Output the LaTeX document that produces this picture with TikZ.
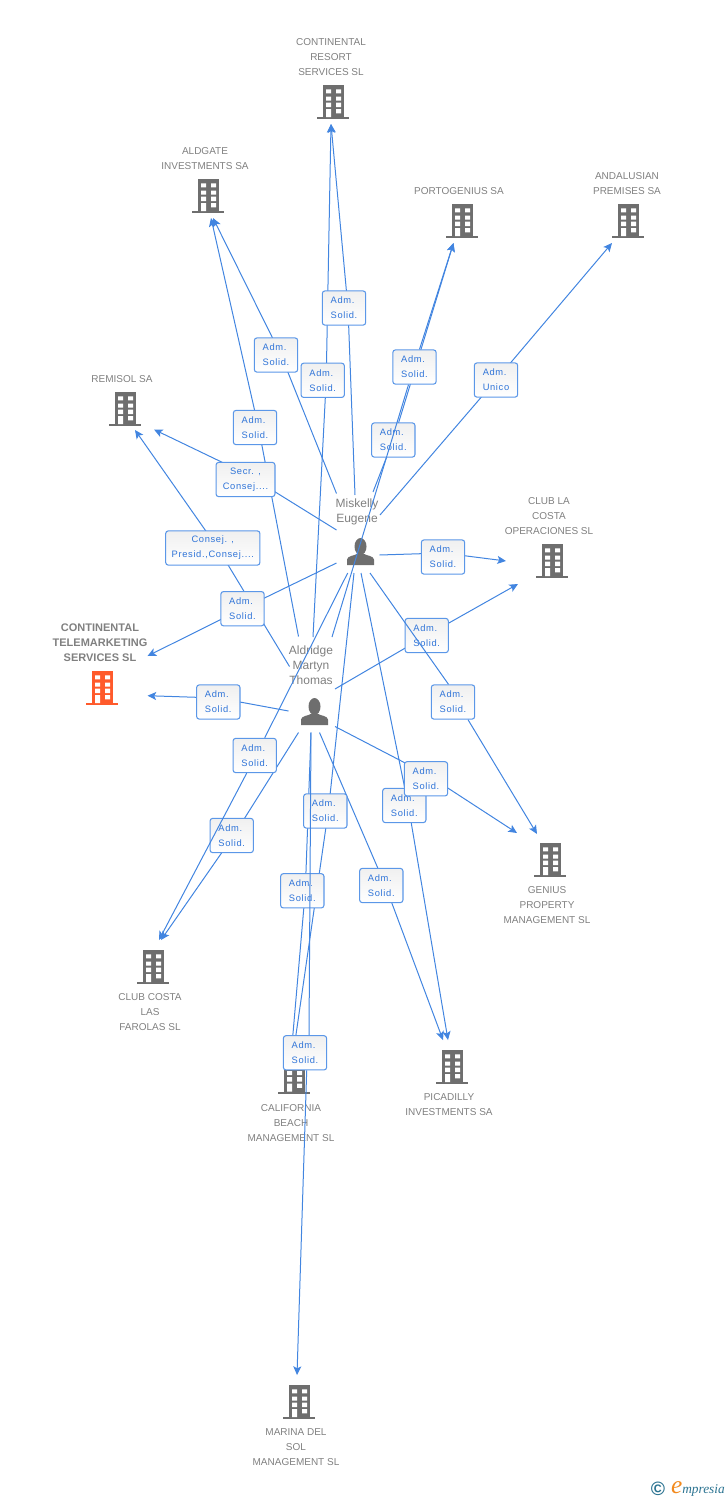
\documentclass[tikz,border=0pt]{standalone}
\usepackage{fontspec}
\setmainfont{Liberation Sans}
\newfontfamily\boxfont[LetterSpace=7]{Liberation Sans}
\newfontfamily\logofont{Liberation Serif}
\usetikzlibrary{arrows.meta,backgrounds}
\definecolor{linkBlue}{HTML}{4285E0}
\definecolor{boxBlue}{HTML}{5B97E8}
\definecolor{boxText}{HTML}{2F74D8}
\definecolor{nameGray}{HTML}{808080}
\definecolor{iconGray}{HTML}{6E6E6E}
\definecolor{iconOrange}{HTML}{FF5A2B}
\definecolor{logoTeal}{HTML}{2B7391}
\definecolor{logoOrange}{HTML}{F28A1E}
\tikzset{
  link/.style={draw=linkBlue,line width=.75pt},
  arr/.style={link,-{Stealth[length=6.5pt,width=6pt,inset=1.5pt]}},
  admbox/.style={rectangle,rounded corners=2pt,draw=boxBlue,line width=.8pt,top color=black!6,bottom color=white,
    minimum width=32.5pt,minimum height=25.7pt,inner sep=0pt,text=boxText,align=left,
    execute at begin node={\vspace*{1.5pt}},
    font=\boxfont\fontsize{7}{11.25}\selectfont},
  widebox/.style={admbox,align=center},
  compname/.style={text=nameGray,align=center,inner sep=0pt,yshift=-.75pt,font=\fontsize{7.5}{11.25}\selectfont},
  bigname/.style={compname,font=\fontsize{9}{11.25}\selectfont},
  boldname/.style={compname,font=\bfseries\fontsize{8.25}{11.25}\selectfont},
  bldg/.style={rectangle,inner sep=0pt,minimum width=24pt,minimum height=25.5pt,
    path picture={
      \fill[#1] (-10.3,-17) rectangle (11.3,15);
      \fill[#1] (-16,15) rectangle (16,17);
      \fill[white] (-7,-12.7) rectangle (-2,-8.7) (3,-12.7) rectangle (8,-8.7);
      \fill[white] (-7,-5.5) rectangle (-2,-1.5) (3,-5.5) rectangle (8,-1.5);
      \fill[white] (-7,.7) rectangle (-2,5) (3,.7) rectangle (8,5);
      \fill[white] (-7,7) rectangle (-2,15) (3,7) rectangle (8,11.3);
    }},
  bldg/.default=iconGray,
  person/.style={rectangle,inner sep=0pt,minimum width=20.25pt,minimum height=20.25pt,
    path picture={
      \fill[iconGray] (0,-5) ellipse[x radius=6,y radius=8.5];
      \fill[iconGray] (-13.5,13.5) -- (-13.5,8) .. controls (-13,4) and (-6,4.5) .. (-3,2)
        -- (3,2) .. controls (6,4.5) and (13,4) .. (13.5,8) -- (13.5,13.5) -- cycle;
    }},
}
\begin{document}
\begin{tikzpicture}[x=.75pt,y=-.75pt]
\useasboundingbox (0,0) rectangle (728,1500);
% Role boxes
\node[admbox] (b1) at (344,308) {Adm.\\Solid.};
\node[admbox] (b2) at (322.7,380.3) {Adm.\\Solid.};
\node[admbox] (b3) at (276,355) {Adm.\\Solid.};
\node[admbox] (b4) at (255,427.5) {Adm.\\Solid.};
\node[admbox] (b5) at (414.5,367) {Adm.\\Solid.};
\node[admbox] (b6) at (393.3,440) {Adm.\\Solid.};
\node[admbox] (b7) at (496,380) {Adm.\\Unico};
\node[widebox,minimum width=44.2pt] (b8) at (245.5,479.5) {Secr. ,\\Consej....};
\node[widebox,minimum width=70.7pt] (b9) at (212.8,548) {Consej. ,\\Presid.,Consej....};
\node[admbox] (b10) at (242.5,608.7) {Adm.\\Solid.};
\node[admbox] (b11) at (218.3,702) {Adm.\\Solid.};
\node[admbox] (b12) at (443,557) {Adm.\\Solid.};
\node[admbox] (b13) at (426.7,635.5) {Adm.\\Solid.};
\node[admbox] (b14) at (453,702) {Adm.\\Solid.};
\node[admbox] (b16) at (404.3,805.5) {Adm.\\Solid.};
\node[admbox] (b15) at (426,778.8) {Adm.\\Solid.};
\node[admbox] (b17) at (381.3,885.5) {Adm.\\Solid.};
\node[admbox] (b18) at (254.7,755.5) {Adm.\\Solid.};
\node[admbox] (b19) at (231.7,835.5) {Adm.\\Solid.};
\node[admbox] (b20) at (325.3,811) {Adm.\\Solid.};
\node[admbox] (b21) at (302.3,890.8) {Adm.\\Solid.};
\node[admbox] (b22) at (305,1052.8) {Adm.\\Solid.};
\begin{scope}[on background layer]
% Companies
\node[bldg] (resort) at (333,102) {};
\node[compname] (resortName) at (331,56) {CONTINENTAL\\RESORT\\SERVICES SL};
\node[bldg] (aldgate) at (208,196) {};
\node[compname] (aldgateName) at (205,157.5) {ALDGATE\\INVESTMENTS SA};
\node[bldg] (portogenius) at (462,221) {};
\node[compname] (portogeniusName) at (459,190) {PORTOGENIUS SA};
\node[bldg] (andalusian) at (628,221) {};
\node[compname] (andalusianName) at (627,182.5) {ANDALUSIAN\\PREMISES SA};
\node[bldg] (remisol) at (125,409) {};
\node[compname] (remisolName) at (122,378) {REMISOL SA};
\node[bldg] (club) at (552,561) {};
\node[compname] (clubName) at (549,515) {CLUB LA\\COSTA\\OPERACIONES SL};
\node[bldg=iconOrange] (telemarketing) at (102,688) {};
\node[boldname] (telemarketingName) at (100,642) {CONTINENTAL\\TELEMARKETING\\SERVICES SL};
\node[bldg] (genius) at (550,860) {};
\node[compname] (geniusName) at (547,904) {GENIUS\\PROPERTY\\MANAGEMENT SL};
\node[bldg] (farolas) at (153,967) {};
\node[compname] (farolasName) at (150,1011) {CLUB COSTA\\LAS\\FAROLAS SL};
\node[bldg] (california) at (294,1076.5) {};
\node[compname] (californiaName) at (291,1122) {CALIFORNIA\\BEACH\\MANAGEMENT SL};
\node[bldg] (picadilly) at (452,1067) {};
\node[compname] (picadillyName) at (449,1103.5) {PICADILLY\\INVESTMENTS SA};
\node[bldg] (marina) at (299,1402) {};
\node[compname] (marinaName) at (296,1446) {MARINA DEL\\SOL\\MANAGEMENT SL};
% People
\node[person] (miskelly) at (360.5,551.5) {};
\node[bigname] (miskellyName) at (357,511) {Miskelly\\Eugene};
\node[person] (aldridge) at (314.5,711.5) {};
\node[bigname] (aldridgeName) at (311,664) {Aldridge\\Martyn\\Thomas};
% Links under the boxes
\draw[arr] ([shift={(-5.5,-56.5)}]miskelly.center) -- ([shift={(4,0)}]b1.center) -- ([shift={(-2,22)}]resort.center);
\draw[arr] ([shift={(-1.5,-74.5)}]aldridge.center) -- ([shift={(3.5,0)}]b2.center) -- ([shift={(-2,22)}]resort.center);
\draw[arr] ([shift={(-24,-58)}]miskelly.center) -- ([shift={(5,0)}]b3.center) -- ([shift={(5,22)}]aldgate.center);
\draw[arr] ([shift={(-16,-75)}]aldridge.center) -- ([shift={(3.5,0)}]b4.center) -- ([shift={(3,22)}]aldgate.center);
\draw[arr] ([shift={(12.5,-59.5)}]miskelly.center) -- (b6.center) -- ([shift={(-8.5,22)}]portogenius.center);
\draw[arr] ([shift={(19.5,-36.5)}]miskelly.center) -- (b7.center) -- ([shift={(-16,22)}]andalusian.center);
\draw[arr] ([shift={(-24,-21.5)}]miskelly.center) -- ([shift={(0,-6)}]b8.center) -- ([shift={(29,20.5)}]remisol.center);
\draw[arr] ([shift={(-25,-45)}]aldridge.center) -- ([shift={(5,0)}]b9.center) -- ([shift={(10,21)}]remisol.center);
\draw[arr] ([shift={(-24,11.5)}]miskelly.center) -- (b10.center) -- ([shift={(45.5,-32)}]telemarketing.center);
\draw[arr] ([shift={(-26,-.5)}]aldridge.center) -- ([shift={(0,-4)}]b11.center) -- ([shift={(45.5,7.7)}]telemarketing.center);
\draw[arr] ([shift={(19,3.5)}]miskelly.center) -- ([shift={(0,-4)}]b12.center) -- ([shift={(-46,0)}]club.center);
\draw[arr] ([shift={(20.5,-22.5)}]aldridge.center) -- (b13.center) -- ([shift={(-34,23)}]club.center);
\draw[arr] ([shift={(20.5,15)}]aldridge.center) -- ([shift={(0,-5)}]b15.center) -- ([shift={(-33,-27)}]genius.center);
\draw[arr] ([shift={(.5,21.5)}]miskelly.center) -- ([shift={(4,0)}]b16.center) -- ([shift={(-4,-27)}]picadilly.center);
\draw[arr] ([shift={(5,21)}]aldridge.center) -- ([shift={(4,0)}]b17.center) -- ([shift={(-9,-27)}]picadilly.center);
\draw[arr] ([shift={(-16,21)}]aldridge.center) -- ([shift={(2,0)}]b19.center) -- ([shift={(8,-27)}]farolas.center);
\draw[arr] ([shift={(-6.5,21.5)}]miskelly.center) -- ([shift={(3,0)}]b20.center) -- ([shift={(.5,-31.5)}]california.center);
\draw[arr] ([shift={(-3.5,21)}]aldridge.center) -- ([shift={(3,0)}]b21.center) -- ([shift={(-2,-31.5)}]california.center);
\end{scope}
% Links over the boxes
\draw[link] ([shift={(17.5,-74.5)}]aldridge.center) -- ([shift={(-6,0)}]b5.south);
\draw[arr] ([shift={(5,0)}]b5.north) -- ([shift={(-8.5,22)}]portogenius.center);
\draw[link] ([shift={(9.5,21.5)}]miskelly.center) -- ([shift={(-4.5,0)}]b14.north);
\draw[arr] ([shift={(15,0)}]b14.south) -- ([shift={(-13,-26)}]genius.center);
\draw[link] ([shift={(-12.8,21.5)}]miskelly.center) -- ([shift={(10,0)}]b18.north);
\draw[arr] ([shift={(-8,0)}]b18.south) -- ([shift={(6,-27)}]farolas.center);
\draw[link] ([shift={(-3.5,21)}]aldridge.center) -- ([shift={(4,0)}]b22.north);
\draw[arr] ([shift={(1.7,0)}]b22.south) -- ([shift={(-2,-27)}]marina.center);
% Logo
\node[inner sep=0pt,text=logoTeal,font=\bfseries\fontsize{14.5}{14.5}\selectfont] (copyMark) at (658,1489) {©};
\node[inner sep=0pt,anchor=base east,text=logoTeal,font=\logofont\itshape\fontsize{10}{10}\selectfont] (logo) at (725,1493)
  {{\color{logoOrange}\fontsize{19}{19}\selectfont e}mpresia};
\end{tikzpicture}
\end{document}
